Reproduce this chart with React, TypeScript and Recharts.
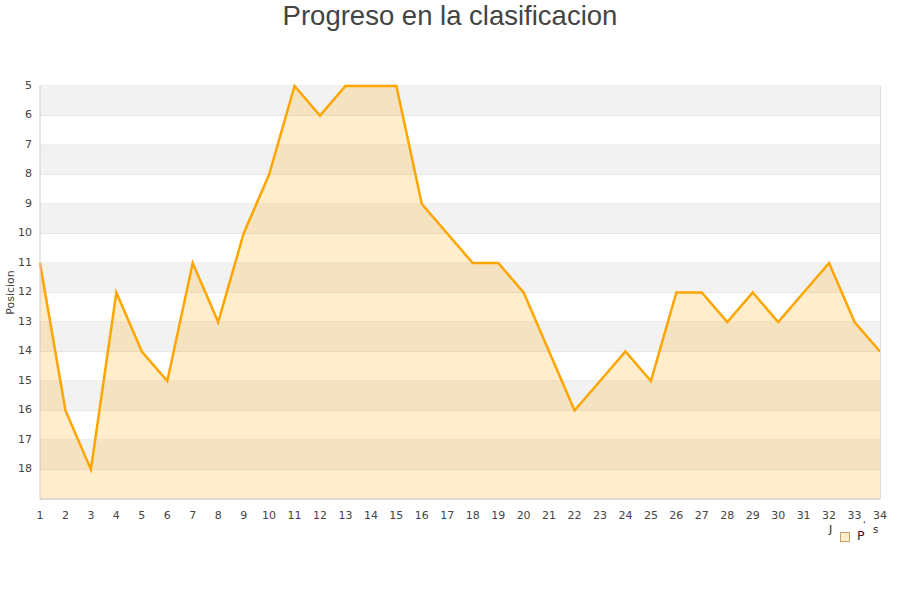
import React from "react";
import {
  ComposedChart, Area, XAxis, YAxis, CartesianGrid, ReferenceArea,
} from "recharts";

const jornadas = [
  1, 2, 3, 4, 5, 6, 7, 8, 9, 10, 11, 12, 13, 14, 15, 16, 17,
  18, 19, 20, 21, 22, 23, 24, 25, 26, 27, 28, 29, 30, 31, 32, 33, 34,
];
const posiciones = [
  11, 16, 18, 12, 14, 15, 11, 13, 10, 8, 5, 6, 5, 5, 5, 9, 10,
  11, 11, 12, 14, 16, 15, 14, 15, 12, 12, 13, 12, 13, 12, 11, 13, 14,
];
const yTicks = [5, 6, 7, 8, 9, 10, 11, 12, 13, 14, 15, 16, 17, 18];
const bandStarts = [5, 7, 9, 11, 13, 15, 17];

const data = jornadas.map((j, i) => ({ j, pos: posiciones[i] }));

const tickStyle = { fontSize: 11, fill: "#444", fontFamily: "DejaVu Sans" };

export default function App() {
  return (
    <div style={{ position: "absolute", left: 0, top: 0, width: 900, height: 600, background: "#fff" }}>
      <div
        style={{
          position: "absolute", top: 0, left: 0, width: 900, textAlign: "center",
          fontFamily: "Liberation Sans, Arial", fontSize: 27.5, color: "#444", lineHeight: "32px",
        }}
      >
        Progreso en la clasificacion
      </div>
      <ComposedChart
        width={900}
        height={600}
        data={data}
        margin={{ top: 86, right: 20, bottom: 71, left: 0 }}
      >
        {bandStarts.map((b) => (
          <ReferenceArea key={b} y1={b} y2={b + 1} fill="#f2f2f2" fillOpacity={1} stroke="none" ifOverflow="hidden" />
        ))}
        <CartesianGrid vertical={false} stroke="#dddddd" />
        <XAxis
          dataKey="j"
          type="number"
          domain={[1, 34]}
          ticks={jornadas}
          interval={0}
          tick={tickStyle}
          tickLine={false}
          axisLine={{ stroke: "#cccccc" }}
          height={30}
          tickMargin={6}
        />
        <YAxis
          type="number"
          domain={[5, 19]}
          reversed
          ticks={yTicks}
          interval={0}
          tick={{ ...tickStyle, dy: -1 }}
          tickLine={false}
          axisLine={{ stroke: "#cccccc" }}
          width={40}
          tickMargin={2}
          label={{
            value: "Posicion", angle: -90, position: "insideLeft", dx: 5,
            style: { fontSize: 11, fill: "#444", fontFamily: "DejaVu Sans", textAnchor: "middle" },
          }}
        />
        <Area
          type="linear"
          dataKey="pos"
          baseValue={19}
          stroke="#ffa500"
          strokeWidth={2.5}
          fill="#ffa500"
          fillOpacity={0.2}
          dot={false}
          activeDot={false}
          isAnimationActive={false}
        />
      </ComposedChart>
      <div style={{ position: "absolute", left: 880, top: 86, width: 1, height: 413, background: "#dddddd" }} />
      <div style={{ position: "absolute", left: 829, top: 523, fontFamily: "DejaVu Sans", fontSize: 11, color: "#222" }}>J</div>
      <div style={{ position: "absolute", left: 840, top: 532, width: 8, height: 8, background: "#ffecc9", border: "1px solid #c8a070" }} />
      <div style={{ position: "absolute", left: 857, top: 528, fontFamily: "DejaVu Sans", fontSize: 12.5, color: "#222" }}>P</div>
      <div style={{ position: "absolute", left: 863, top: 520, fontFamily: "DejaVu Sans", fontSize: 9, color: "#222" }}>'</div>
      <div style={{ position: "absolute", left: 873, top: 524, fontFamily: "DejaVu Sans", fontSize: 10, color: "#222" }}>s</div>
    </div>
  );
}
